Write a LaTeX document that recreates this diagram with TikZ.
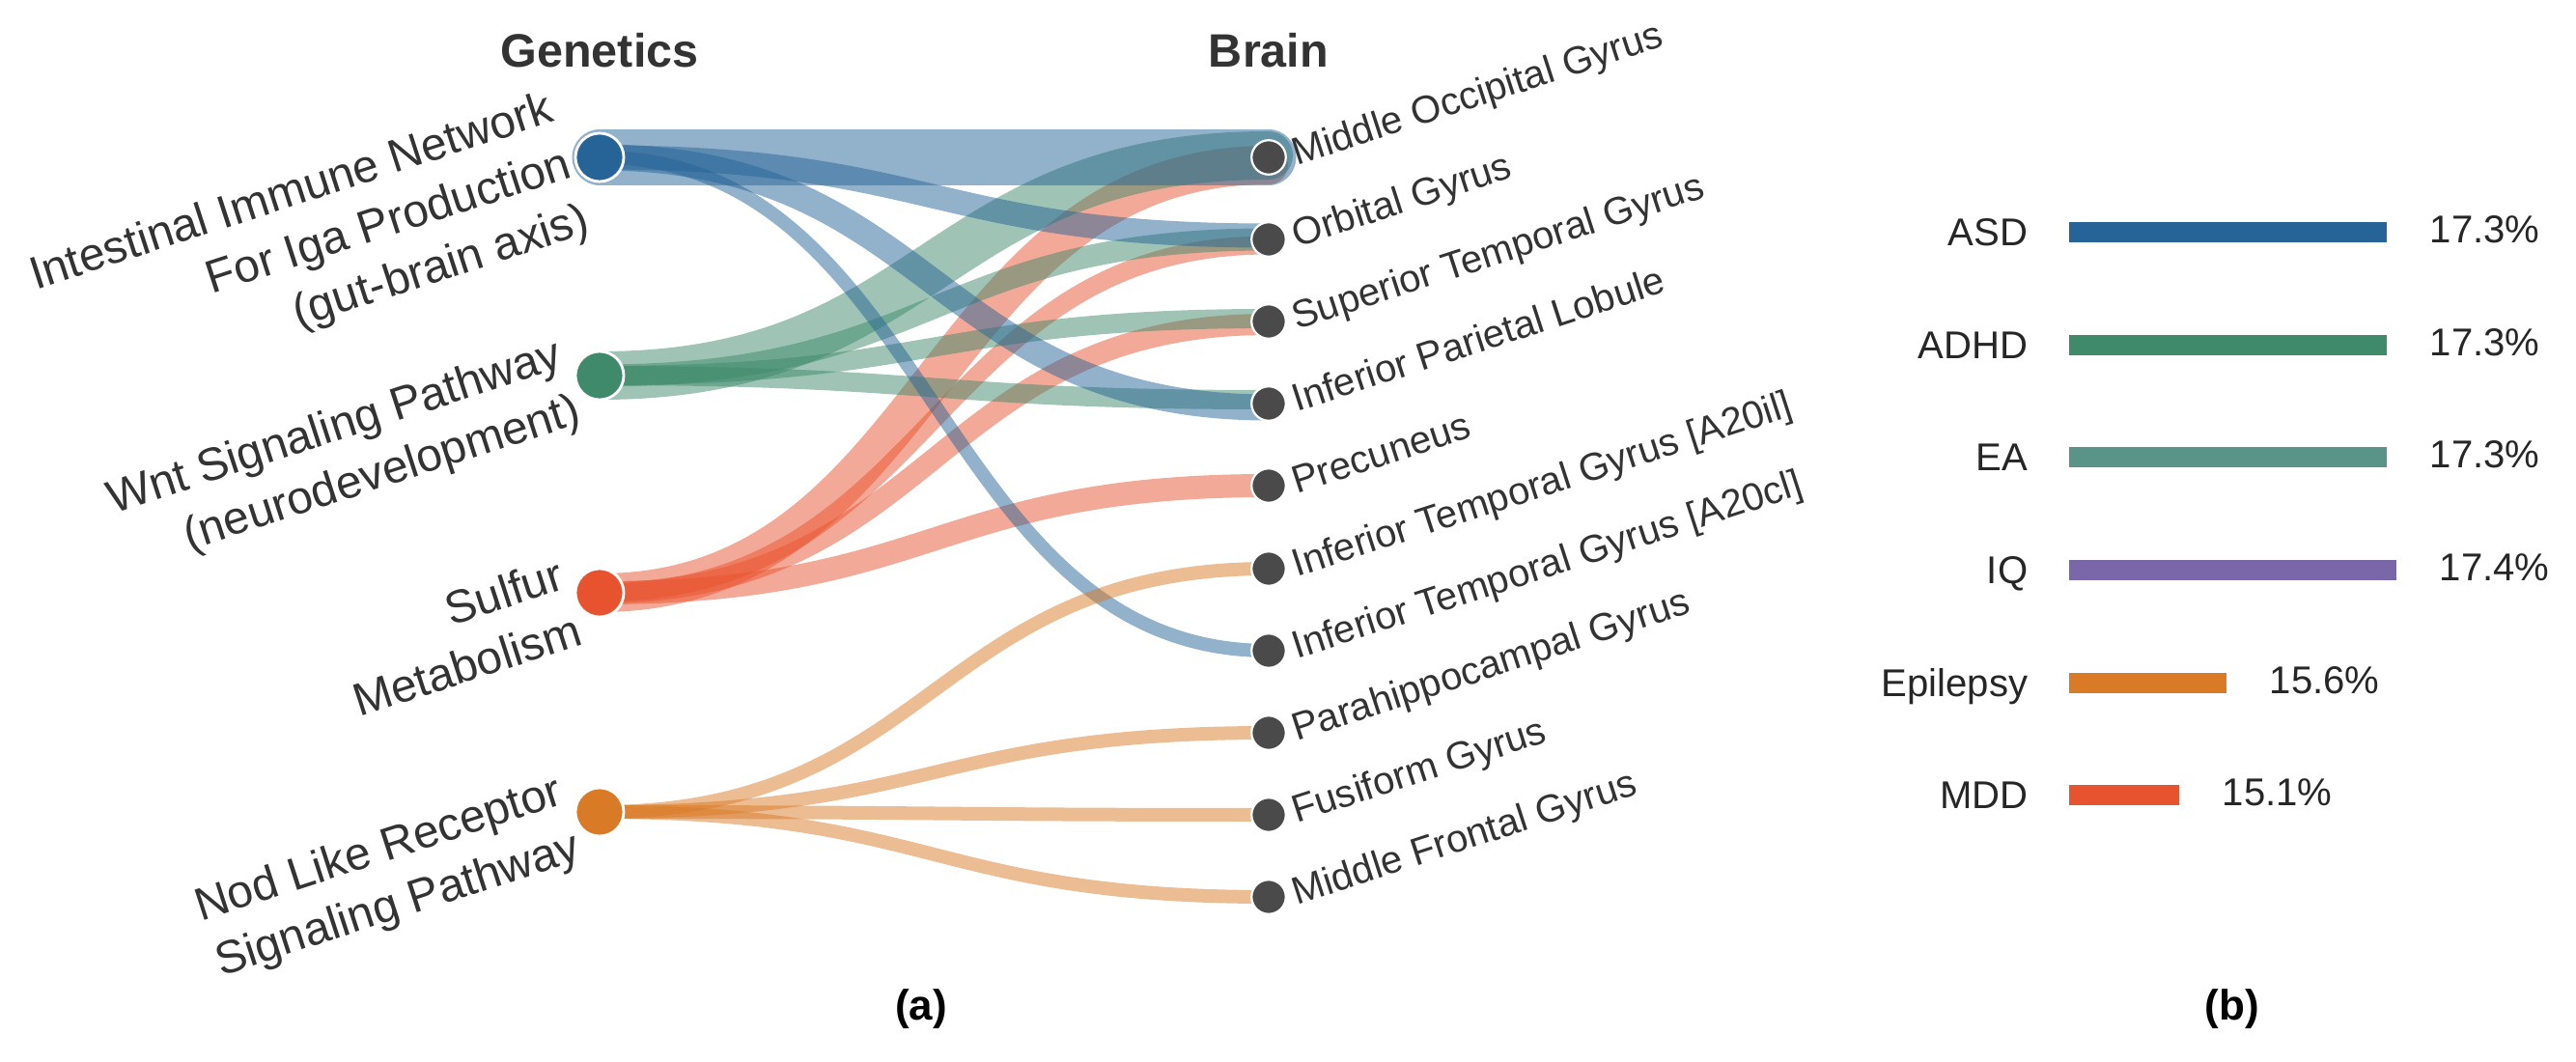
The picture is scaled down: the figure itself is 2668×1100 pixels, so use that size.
\documentclass[tikz,border=0pt]{standalone}
\usepackage{fontspec}
\setmainfont{Liberation Sans}
\usetikzlibrary{calc}
\pgfdeclarelayer{bg}
\pgfsetlayers{bg,main}
\definecolor{cblue}{HTML}{266497}
\definecolor{cgreen}{HTML}{3F8A6B}
\definecolor{cteal}{HTML}{5A9488}
\definecolor{cpurple}{HTML}{7A67A9}
\definecolor{corange}{HTML}{D97A26}
\definecolor{cred}{HTML}{E8532F}
\definecolor{cgray}{HTML}{4A4A4A}
\definecolor{ctext}{HTML}{333333}
\definecolor{cbartext}{HTML}{262626}
\begin{document}
\begin{tikzpicture}[x=0.01cm, y=-0.01cm,
  gnode/.style={circle, minimum size=0.5cm, inner sep=0pt, draw=white, line width=0.028cm},
  bnode/.style={circle, fill=cgray, minimum size=0.355cm, inner sep=0pt, draw=white, line width=0.022cm},
  band/.style={line cap=round, opacity=0.5},
  glabel/.style={anchor=east, rotate=18, align=right, inner sep=0pt, text=ctext,
    font=\fontsize{13.6pt}{17.2pt}\selectfont},
  blabel/.style={anchor=west, rotate=18, inner sep=0pt, text=ctext, text height=0.73em, text depth=0.21em,
    font=\fontsize{11.4pt}{13pt}\selectfont},
  title/.style={anchor=base, inner sep=0pt, text=ctext, font=\fontsize{13.8pt}{16pt}\selectfont\bfseries},
  capt/.style={inner sep=0pt, text=black, font=\fontsize{12.5pt}{15pt}\selectfont\bfseries},
  barlab/.style={anchor=base east, inner sep=0pt, text=cbartext, font=\fontsize{11.4pt}{13pt}\selectfont},
  pctlab/.style={anchor=base west, inner sep=0pt, text=cbartext, font=\fontsize{11.4pt}{13pt}\selectfont}
]
\useasboundingbox (0,0) rectangle (2668,1100);

% titles
\node[title] (tg) at (621,69) {Genetics};
\node[title] (tb) at (1314,69) {Brain};

% genetics nodes
\node[gnode, fill=cblue]   (g1) at (621,163) {};
\node[gnode, fill=cgreen]  (g2) at (621,389) {};
\node[gnode, fill=cred]    (g3) at (621,614) {};
\node[gnode, fill=corange] (g4) at (621,841) {};

% brain nodes
\node[bnode] (b1)  at (1314,163) {};
\node[bnode] (b2)  at (1314,248) {};
\node[bnode] (b3)  at (1314,333) {};
\node[bnode] (b4)  at (1314,418) {};
\node[bnode] (b5)  at (1314,503) {};
\node[bnode] (b6)  at (1314,589) {};
\node[bnode] (b7)  at (1314,674) {};
\node[bnode] (b8)  at (1314,759) {};
\node[bnode] (b9)  at (1314,844) {};
\node[bnode] (b10) at (1314,929) {};

% genetics labels
\node[glabel] (l1) at ($(g1.center)+(-30,8)$) {Intestinal Immune Network\\For Iga Production\\(gut-brain axis)};
\node[glabel] (l2) at ($(g2.center)+(-30,8)$) {Wnt Signaling Pathway\\(neurodevelopment)};
\node[glabel] (l3) at ($(g3.center)+(-30,8)$) {Sulfur\\Metabolism};
\node[glabel] (l4) at ($(g4.center)+(-30,8)$) {Nod Like Receptor\\Signaling Pathway};

% brain labels
\node[blabel] (r1)  at ($(b1.center)+(26,0)$)  {Middle Occipital Gyrus};
\node[blabel] (r2)  at ($(b2.center)+(26,0)$)  {Orbital Gyrus};
\node[blabel] (r3)  at ($(b3.center)+(26,0)$)  {Superior Temporal Gyrus};
\node[blabel] (r4)  at ($(b4.center)+(26,0)$)  {Inferior Parietal Lobule};
\node[blabel] (r5)  at ($(b5.center)+(26,0)$)  {Precuneus};
\node[blabel] (r6)  at ($(b6.center)+(26,0)$)  {Inferior Temporal Gyrus [A20il]};
\node[blabel] (r7)  at ($(b7.center)+(26,0)$)  {Inferior Temporal Gyrus [A20cl]};
\node[blabel] (r8)  at ($(b8.center)+(26,0)$)  {Parahippocampal Gyrus};
\node[blabel] (r9)  at ($(b9.center)+(26,0)$)  {Fusiform Gyrus};
\node[blabel] (r10) at ($(b10.center)+(26,0)$) {Middle Frontal Gyrus};

% bands
\begin{pgfonlayer}{bg}
\draw[band, cred, line width=0.40cm] (g3.center) .. controls +(346.5,0) and +(-346.5,0) .. ($(b1.center)+(0,8)$);
\draw[band, cred, line width=0.19cm] (g3.center) .. controls +(346.5,0) and +(-346.5,0) .. ($(b2.center)+(0,6)$);
\draw[band, cred, line width=0.22cm] (g3.center) .. controls +(346.5,0) and +(-346.5,0) .. ($(b3.center)+(0,3)$);
\draw[band, cred, line width=0.24cm] (g3.center) .. controls +(346.5,0) and +(-346.5,0) .. (b5.center);
\draw[band, cgreen, line width=0.50cm] (g2.center) .. controls +(346.5,0) and +(-346.5,0) .. ($(b1.center)+(0,-2)$);
\draw[band, cgreen, line width=0.23cm] (g2.center) .. controls +(346.5,0) and +(-346.5,0) .. (b2.center);
\draw[band, cgreen, line width=0.20cm] (g2.center) .. controls +(346.5,0) and +(-346.5,0) .. ($(b3.center)+(0,-3)$);
\draw[band, cgreen, line width=0.20cm] (g2.center) .. controls +(346.5,0) and +(-346.5,0) .. ($(b4.center)+(0,-4)$);
\draw[band, cblue, line width=0.57cm] (g1.center) .. controls +(346.5,0) and +(-346.5,0) .. (b1.center);
\draw[band, cblue, line width=0.25cm] (g1.center) .. controls +(346.5,0) and +(-346.5,0) .. ($(b2.center)+(0,-4)$);
\draw[band, cblue, line width=0.27cm] (g1.center) .. controls +(346.5,0) and +(-346.5,0) .. ($(b4.center)+(0,4)$);
\draw[band, cblue, line width=0.14cm] (g1.center) .. controls +(346.5,0) and +(-346.5,0) .. (b7.center);
\draw[band, corange, line width=0.14cm] (g4.center) .. controls +(346.5,0) and +(-346.5,0) .. (b6.center);
\draw[band, corange, line width=0.14cm] (g4.center) .. controls +(346.5,0) and +(-346.5,0) .. (b8.center);
\draw[band, corange, line width=0.14cm] (g4.center) .. controls +(346.5,0) and +(-346.5,0) .. (b9.center);
\draw[band, corange, line width=0.14cm] (g4.center) .. controls +(346.5,0) and +(-346.5,0) .. (b10.center);
\end{pgfonlayer}

% captions
\node[capt] (ca) at (954,1045) {(a)};
\node[capt] (cb) at (2312,1045) {(b)};

% bar chart
\node[barlab] (n1) at (2101,254) {ASD};
\node[barlab] (n2) at (2101,371) {ADHD};
\node[barlab] (n3) at (2101,487) {EA};
\node[barlab] (n4) at (2101,604) {IQ};
\node[barlab] (n5) at (2101,721) {Epilepsy};
\node[barlab] (n6) at (2101,837) {MDD};

\fill[cblue]   (2143,229.5) rectangle (2472,250.5);
\fill[cgreen]  (2143,346.5) rectangle (2472,367.5);
\fill[cteal]   (2143,462.5) rectangle (2472,483.5);
\fill[cpurple] (2143,579.5) rectangle (2482,600.5);
\fill[corange] (2143,696.5) rectangle (2306,717.5);
\fill[cred]    (2143,812.5) rectangle (2257,833.5);

\node[pctlab] (p1) at (2516,251) {17.3\%};
\node[pctlab] (p2) at (2516,368) {17.3\%};
\node[pctlab] (p3) at (2516,484) {17.3\%};
\node[pctlab] (p4) at (2526,601) {17.4\%};
\node[pctlab] (p5) at (2350,718) {15.6\%};
\node[pctlab] (p6) at (2301,834) {15.1\%};
\end{tikzpicture}
\end{document}
